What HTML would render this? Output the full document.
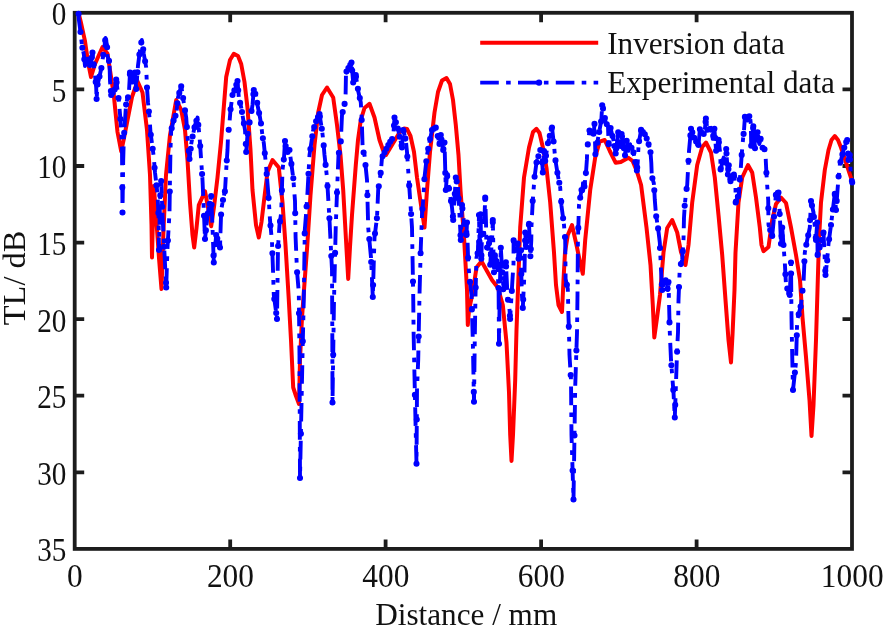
<!DOCTYPE html>
<html lang="en"><head><meta charset="utf-8"><title>TL vs Distance</title>
<style>html,body{margin:0;padding:0;background:#fff}body{width:886px;height:628px;overflow:hidden}svg{display:block}text{font-family:"Liberation Serif","Times New Roman",serif;font-size:31.2px;fill:#111}</style></head><body>
<svg width="886" height="628" viewBox="0 0 886 628">
<rect width="886" height="628" fill="#fff"/>
<g stroke="#1c1c1c" stroke-width="3.8" fill="none" stroke-linecap="butt">
<rect x="74.7" y="12.8" width="777.3" height="536.1"/>
<path d="M230.2 548.9v-9.5M230.2 12.8v9.5M385.6 548.9v-9.5M385.6 12.8v9.5M541.1 548.9v-9.5M541.1 12.8v9.5M696.6 548.9v-9.5M696.6 12.8v9.5M74.7 89.4h9.5M852 89.4h-9.5M74.7 166h9.5M852 166h-9.5M74.7 242.6h9.5M852 242.6h-9.5M74.7 319.1h9.5M852 319.1h-9.5M74.7 395.7h9.5M852 395.7h-9.5M74.7 472.3h9.5M852 472.3h-9.5"/>
</g>
<g fill="none" stroke-linejoin="round">
<path d="M78.8 14L80.8 22L84.9 40.6L88 62L91 77L95 64L102.5 47L107.5 53.8L113.8 95L117.5 132L121.2 151.5L124 138L127.5 120L132 97L137.5 81.2L142.5 92.5L147 130L150 175L151.5 225L152 257.5L153 215L153.8 186L156 215L159 258L161.5 289L163.5 230L166 175L170 135L176.2 100L181.2 110L185 130L187.5 160L190 202.5L192.5 235L194.2 247.5L196.5 228L198.8 205L205 191.2L208.5 210L211.2 226.2L214 207L217.5 177.5L221 142L226.2 77L230 60L233.8 53.8L238 56L241.2 64L244.5 82L247.5 108L250.5 150L252.5 190L256 225L258.8 237.5L261.5 222L263.8 202.5L267.5 172L272.5 160L278.8 167.5L282.5 202.5L285.5 245L288.8 300L291 340L293.2 387.5L296 396L299 404L300 360L302 317.5L304 290L307.3 245L310.5 195L314.5 145L318.2 112.5L322 95L327 87.5L333.2 97.5L337 125L340.5 155L343.2 190L346 240L348.2 279L350 247L352 215L355.8 165L358 140L360.8 120L364.5 108L369.5 103.8L374.5 117.5L379.5 140L383 150L386 155L392 145L399.5 132.5L404 128.5L407 129L410.5 136L414 152L417 177.5L421 205L424.5 227.5L427 190L430 152L434.5 112.5L438 92L442 80.5L446.5 78L450 84L453 100L455.8 125L458.5 155L460.5 190L464.2 240L467 290L467.8 325L469 310L472.8 292L476.5 267.5L481.5 261.2L487.8 272.5L492 280L497.8 287.5L502.8 305L506.5 342.5L509 392.5L510.2 435L511.5 461L513 435L515.2 380L516.5 330L518.5 275L520.2 227.5L524 177.5L529 147.5L533 132L536.5 128.8L539.5 133L543 148L546.5 168L550.2 202.5L554 252.5L556 285L558.5 305L562 312L563.5 280L565 252.5L567.8 235L572 225L576.5 245L580 262L582.8 273.8L585.2 240L590.2 190L595.2 157.5L599.6 141.6L604.7 140L609.8 151L615.7 162.8L620.8 162L628.4 157.7L632.6 161L636.9 171.3L641.1 185L646.5 227.5L650.5 265L652.8 305L654.3 337.5L657 318L660 295L663.5 252.5L667.2 228L672.2 220L677.2 232.5L681 252L685.5 265L688.5 245L692.2 202.5L697.2 165L702.2 147L706 142.5L711 152.5L714.8 177.5L718.5 215L722.2 255L725.5 300L728.5 340L731 362.5L732.5 335L734.5 290L735.5 252.5L738.5 202.5L742.2 177.5L748 165L752.2 172.5L756 197.5L759.8 227.5L761.5 245L763.5 251.2L768.5 247L772.2 220L776 204L781 197.5L786 203L791 227.5L796 255L800 280L802.5 317.5L806 357L809.5 400L811.5 436L813.5 405L816 340L817.5 290L819 240L821 202.5L824.8 170L828.5 150L831.5 140L834.8 136L838 140L841 147.5L846 162.5L852 181" stroke="#ff0000" stroke-width="4" stroke-linecap="round"/>
<path d="M78.6 13.8L78.7 18.5L80.5 32L82 46L83.8 54L85 66L87.5 56L88.8 67.5L91.2 62.5L92.5 52.5L95 75L96.2 87.5L96.6 99L97.5 85L101.2 69L104 50L105.5 38L107 45L107.5 56L109.5 62.5L110 81L111.2 95L115 89L116.2 79.5L118.8 100L120 114L121.2 130L122 150L122.5 212.5L123.2 160L123.8 140L125 120L126.2 102.5L128.8 95L130 72.5L132.5 82.5L135 72.5L136.2 89L138 65.5L140 50L141.8 40L143 47.5L143.8 54L146.2 67.5L147 87.5L148 102.5L149.5 117.5L150.5 132.5L152.5 147L153.8 157.5L155 172.5L157.5 194L158.5 215L159 250L160 200L161.2 181L162.5 215L163.8 240L166.2 287.5L167.5 247.5L169.5 212.5L170 177.5L170.5 149L171.2 130L173.8 120L176.2 114L178 97.5L181.2 86L182.5 94L184.5 107.5L186.2 117.5L187.5 136L189.5 159L191.2 144L192.5 137L195 125L197.5 117.5L198.8 129L200 143L202.5 180L203.8 210L205 239L207.5 215L211.2 196L212.5 227.5L213.8 262.5L216.2 235L220 247.5L221.2 210L223 200L225 191L226.5 165L227.5 150L228 136L229.5 122.5L230.5 110L232.5 95L235 89L237.5 81L238.8 97.5L241.2 107.5L242.5 115L245 130L246.2 152L247.5 135L250 120L252.5 105L253.8 90L256.2 96L257.5 105L260 117.5L261.2 125L262.5 136L263.8 143L266 165L268.8 200L270 220L272 242L273 270L273.8 295L277 319L278 247.5L279.5 225L281.2 212.5L282.5 170L284 158L285 141L286.2 150L287.5 152L289.5 150L293.2 177.5L295 201L295.6 237.5L297 271L298.8 292.5L299.5 355L300 478L302.5 355L303.8 298L304.8 230L306.2 212L307.5 192.5L309.5 155L313.2 130L316.5 120L319.5 114L322 130L323.2 140L324.5 155L327 177.5L329.5 220L332 270L332.3 330L332.5 402.5L334 300L335.8 225L337 192.5L338.5 155L340.8 142.5L342 115L345.5 100L346 72.5L351.5 62.5L353.2 82.5L355.8 75L358.2 91L360.8 102.5L361.5 115L362 127.5L362.7 150L364.5 155L367 180L368.2 227.5L371 257.5L372.8 297L374.5 237.5L377 217.5L378.2 190L380.8 172.5L382 157.5L387 147.5L390 142L393.2 137.5L394.5 117.5L398.2 130L402 147.5L403.2 130L405.8 140L407 152L409.5 190L412 227.5L413.2 295L413.6 332.5L414.5 376L415.8 435L416.5 463.8L417 390L418.2 360L419.5 295L420.8 247.5L422 215L423.2 200L424.5 177.5L427 155L429.5 142L432 130L435.8 127.5L439.5 144L440.8 135L443.2 150L444.5 142.5L445.8 190L447 175L452 207.5L453.2 220L455.8 177.5L458 187L460.8 240L462 205L464 222.5L466.5 235L467 222.5L468.2 262.5L469.5 277.5L471.5 295L472.8 340L474 401.8L474.8 337.5L475.5 295L476.5 257.5L477.9 252L479 215L479.6 246.9L480.6 214.2L481.3 258.8L482 235L483.9 233.4L485.2 197.5L486 222L486.4 246.9L488.1 248.6L489.8 238.5L490.2 264.7L490.6 258.8L492.3 235.1L492.8 220L493.3 245L494 272.3L494.9 255.4L497.4 263.9L497.8 275L498.6 290L499 343.8L499.8 290L500.8 247.8L501.6 260.5L503.3 289.3L505 279.1L505.9 262.2L507.6 297.7L509.3 306.2L510.1 318.9L511.8 290.9L512.6 277.4L513.5 263.9L513.6 240.2L516 252L517.7 243.5L518.6 258.8L521.1 250.3L521.3 274L521.9 294.3L522.8 307.9L524.5 272.3L525.2 232.5L526.2 246.9L527.9 235.1L529 223.8L530.4 256.2L531.3 240.2L531.5 226L532.8 200L534.5 177.5L536.5 162.5L540.2 150L541.5 150L542.8 172.5L544 151L545.2 161L547.8 143.8L552 127.5L554 145L555.2 158.8L557.8 175L560.2 187.5L561.5 206L564 225L565.2 240L565.6 278.8L567.8 288.8L568.5 317.5L569 332.5L569.5 355L571 380L571.5 435L573.5 499.5L575.2 387.5L576 362.5L577 332.5L577.5 295L577.9 241L579 205L581.5 190L581.9 191.6L583.5 181.4L584.4 186.5L586.1 171.3L586.9 159.4L587.3 148.4L589.5 130.6L593.7 134L594.5 123.9L595.4 154.3L597.9 139.1L601.3 120.5L602.2 105.2L603.9 112L605.6 122.2L608 126.4L608.6 144.2L610.6 128.1L613.2 139.1L615.7 153.5L618.2 132.3L620.8 145.9L621.6 134L625 155.2L626.7 140.8L628.4 150.9L630.1 144.2L633.5 152.6L636.9 170.4L637.7 162.8L638.6 144.2L641.1 129.8L645.3 134.9L647.9 141.6L650.4 150.9L651.3 162.8L651.8 176.3L653.8 183.1L654.2 188.2L654.8 200L656 215L658 227.5L659.8 242.5L661 270L662.2 290L664 281L666.5 280L667.8 290L668.5 282L669.8 332.5L671 360L673.5 392.5L674.8 417.5L677.2 347.5L678 332.5L678.5 300L679.8 267.5L682.2 260L683.5 240L684 217.5L684.8 205L686 192.5L687.2 185L689 151L691 128.8L695 140L698.5 145L699.8 130L700.3 127.1L702.5 135.6L704.5 133L705.9 118.6L707.6 130.5L711 127.9L712.7 138.9L714.4 128.8L716.1 150.8L718.6 139.8L720.3 154.2L720.6 169.4L723.7 157.6L725.4 162.6L726.2 149.1L727.9 174.5L728.8 165.2L730.5 181.3L733.9 174.5L735.5 188L735.7 202.4L738.9 194L739.8 179.6L740.6 171.1L741.5 157.6L742 150.8L743.2 137.2L744 130.5L744.9 116.9L747.4 119.5L749.9 115.2L750.8 123.7L751.2 145.7L753.3 126.2L755 148.2L757.6 132.2L759.3 144L760.9 138.1L761.8 147.4L764.3 148.2L765.7 155L765.8 161L766.4 172.8L767.2 185.5L768.2 199.9L768.5 225L772.2 236L773.5 222.5L776 193.8L778.5 192.5L779.8 215L781 243.8L782.2 227.5L784.8 262.5L786 285L789.8 295L791 262.5L791.5 317.5L792.2 355L793 390L796 362.5L797.2 320L801 305L802.2 292.5L803.5 283.8L804.8 252.5L807.2 240L809.8 227.5L811 201L813.5 212.5L816 240L817.2 222.5L817.6 255L823.5 232.5L825.5 275L827.2 260L828.5 243.8L831 225L832.2 215L834.8 193.8L836 210L838.5 177.5L839.8 165L843.5 150L846 142.5L847.2 140L848.5 160L849.8 155L851 177.5L852.2 182.5" stroke="#0000ff" stroke-width="3.9" stroke-dasharray="18.6 7.3 4.6 7.3" stroke-linecap="butt"/>
<path d="M78.6 13.8h0M80.5 32h0M82.4 47.8h0M84.3 59.3h0M86.2 61.2h0M88.1 61.5h0M90 65h0M91.9 57.3h0M93.8 64.2h0M95.7 82h0M97.6 84.6h0M99.5 76.5h0M101.4 68h0M103.3 54.8h0M105.2 40.4h0M107.1 47.2h0M109 60.9h0M110.9 91.1h0M112.8 92.5h0M114.7 89.5h0M116.6 82.4h0M118.5 98h0M120.4 119.1h0M122.3 187.5h0M124.2 132.8h0M126.1 104.6h0M128 97.2h0M129.9 74.3h0M131.8 79.7h0M133.7 77.7h0M135.6 80.4h0M137.5 72.2h0M139.4 54.6h0M141.3 42.6h0M143.2 49.2h0M145.1 61.3h0M147 87.5h0M148.9 111.5h0M150.8 134.7h0M152.7 148.7h0M154.6 167.7h0M156.5 185.4h0M158.4 212.9h0M160.3 195.4h0M162.2 206.8h0M164.1 246.7h0M166 282.8h0M167.9 240.5h0M169.8 191.5h0M171.7 128.2h0M173.6 120.6h0M175.5 115.8h0M177.4 103.2h0M179.3 92.9h0M181.2 86.2h0M183.1 98.1h0M185 110.4h0M186.9 127.1h0M188.8 151h0M190.7 148.7h0M192.6 136.5h0M194.5 127.4h0M196.4 120.8h0M198.3 124.9h0M200.2 146h0M202.1 174.1h0M204 215.8h0M205.9 230.4h0M207.8 213.5h0M209.7 203.9h0M211.6 204.8h0M213.5 255.5h0M215.4 244.3h0M217.3 238.5h0M219.2 244.8h0M221.1 214.5h0M223 200h0M224.9 191.4h0M226.8 160.5h0M228.7 129.7h0M230.6 109.2h0M232.5 95h0M234.4 90.4h0M236.3 84.8h0M238.2 90.2h0M240.1 102.9h0M242 112h0M243.9 123.4h0M245.8 144.1h0M247.7 133.8h0M249.6 122.4h0M251.5 111h0M253.4 94.2h0M255.3 93.7h0M257.2 102.8h0M259.1 113h0M261 123.5h0M262.9 138.2h0M264.8 153.3h0M266.7 173.9h0M268.6 198.1h0M270.5 225.5h0M272.4 253.2h0M274.3 299.1h0M276.2 313.1h0M278.1 246h0M280 221.4h0M281.9 190.4h0M283.8 159.6h0M285.7 146h0M287.6 151.9h0M289.5 150h0M291.4 163.9h0M293.3 178.2h0M295.2 213.2h0M297.1 272.2h0M299 313.3h0M300.9 433.7h0M302.8 341.3h0M304.7 233.4h0M306.6 206.5h0M308.5 173.8h0M310.4 149h0M312.3 136.3h0M314.2 127.1h0M316.1 121.2h0M318 117h0M319.9 116.6h0M321.8 128.7h0M323.7 145.4h0M325.6 164.9h0M327.5 186h0M329.4 218.3h0M331.3 256h0M333.2 354.7h0M335.1 252.9h0M337 192.5h0M338.9 152.8h0M340.8 141.4h0M342.7 112h0M344.6 103.9h0M346.5 71.6h0M348.4 68.1h0M350.3 64.7h0M352.2 70.5h0M354.1 80h0M356 76.6h0M357.9 88.8h0M359.8 98.1h0M361.7 120h0M363.6 152.5h0M365.5 165h0M367.4 195.2h0M369.3 239h0M371.2 262h0M373.1 285.1h0M375 233.5h0M376.9 218.3h0M378.8 186.2h0M380.7 172.9h0M382.6 156.3h0M384.5 152.5h0M386.4 148.7h0M388.3 145.1h0M390.2 141.7h0M392.1 139.1h0M394 125.5h0M395.9 122.2h0M397.8 128.5h0M399.7 136.8h0M401.6 145.6h0M403.5 131h0M405.4 138.6h0M407.3 156.6h0M409.2 185.4h0M411.1 214h0M413 281.5h0M414.9 394.9h0M416.8 419.5h0M418.7 336.6h0M420.6 253.2h0M422.5 209h0M424.4 179.3h0M426.3 161.3h0M428.2 148.8h0M430.1 139.1h0M432 130h0M433.9 128.7h0M435.8 127.7h0M437.7 136.1h0M439.6 143.3h0M441.5 139.5h0M443.4 149.1h0M445.3 172.9h0M447.2 176.3h0M449.1 188.6h0M451 201h0M452.9 216.5h0M454.8 193.7h0M456.7 181.5h0M458.6 198.6h0M460.5 235.2h0M462.4 208.5h0M464.3 224h0M466.2 233.5h0M468.1 257.7h0M470 281.9h0M471.9 309.4h0M473.8 391.9h0M475.7 287.5h0M477.6 253.2h0M479.5 241.6h0M481.4 255.4h0M483.3 233.9h0M485.2 198.8h0M487.1 247.6h0M489 243.3h0M490.9 254.6h0M492.8 222.3h0M494.7 259.2h0M496.6 261.2h0M498.5 288.1h0M500.4 264.7h0M502.3 272.4h0M504.2 283.9h0M506.1 266.4h0M508 299.7h0M509.9 315.7h0M511.8 290.9h0M513.7 240.7h0M515.6 250h0M517.5 244.5h0M519.4 256.1h0M521.3 274h0M523.2 299.5h0M525.1 240.5h0M527 241.3h0M528.9 224.8h0M530.8 249.1h0M532.7 201h0M534.6 176.8h0M536.5 162.5h0M538.4 156.2h0M540.3 150h0M542.2 162.6h0M544.1 151.8h0M546 155.8h0M547.9 143.2h0M549.8 135.9h0M551.7 128.6h0M553.6 141.5h0M555.5 160.4h0M557.4 172.7h0M559.3 182.7h0M561.2 201.6h0M563.1 218.2h0M565 237h0M566.9 284.8h0M568.8 326.5h0M570.7 375h0M572.6 470.5h0M574.5 435.5h0M576.4 350.5h0M578.3 227.9h0M580.2 197.8h0M582.1 190.3h0M584 184.2h0M585.9 173.1h0M587.8 144.4h0M589.7 130.8h0M591.6 132.3h0M593.5 133.8h0M595.4 154.3h0M597.3 142.7h0M599.2 132h0M601.1 121.6h0M603 108.4h0M604.9 118h0M606.8 124.3h0M608.7 143.4h0M610.6 128.1h0M612.5 136.1h0M614.4 146h0M616.3 148.4h0M618.2 132.3h0M620.1 142.2h0M622 136.5h0M623.9 148.3h0M625.8 148.4h0M627.7 146.7h0M629.6 146.2h0M631.5 147.7h0M633.4 152.4h0M635.3 162h0M637.2 167.6h0M639.1 141.3h0M641 130.4h0M642.9 132h0M644.8 134.3h0M646.7 138.5h0M648.6 144.2h0M650.5 152.2h0M652.4 178.3h0M654.3 190.3h0M656.2 216.2h0M658.1 228.4h0M660 248h0M661.9 284.4h0M663.8 282h0M665.7 280.3h0M667.6 288.8h0M669.5 322.4h0M671.4 365.2h0M673.3 389.9h0M675.2 404.9h0M677.1 351.7h0M679 287h0M680.9 264.1h0M682.8 251.2h0M684.7 205.8h0M686.6 188.9h0M688.5 160.7h0M690.4 135.4h0M692.3 132.4h0M694.2 137.7h0M696.1 141.6h0M698 144.3h0M699.9 129.2h0M701.8 132.9h0M703.7 134h0M705.6 121.7h0M707.5 129.8h0M709.4 129.1h0M711.3 129.8h0M713.2 135.9h0M715.1 137.9h0M717 146.8h0M718.9 142.3h0M720.8 168.6h0M722.7 161.4h0M724.6 160.2h0M726.5 153.6h0M728.4 169.3h0M730.3 179.4h0M732.2 177.9h0M734.1 176.2h0M736 201.6h0M737.9 196.6h0M739.8 179.6h0M741.7 154.9h0M743.6 133.9h0M745.5 117.5h0M747.4 119.5h0M749.3 116.2h0M751.2 145.7h0M753.1 128.1h0M755 148.2h0M756.9 136.5h0M758.8 140.5h0M760.7 138.8h0M762.6 147.7h0M764.5 149.2h0M766.4 172.8h0M768.3 208.3h0M770.2 230h0M772.1 235.6h0M774 216.8h0M775.9 194.9h0M777.8 192.9h0M779.7 214.1h0M781.6 236h0M783.5 245h0M785.4 274.2h0M787.3 288.5h0M789.2 293.5h0M791.1 273.5h0M793 390h0M794.9 372.6h0M796.8 335.3h0M798.7 314.2h0M800.6 306.6h0M802.5 290.8h0M804.4 261.3h0M806.3 244.8h0M808.2 235.3h0M810.1 220.1h0M812 205.6h0M813.9 216.9h0M815.8 237.8h0M817.7 254.6h0M819.6 247.4h0M821.5 240.1h0M823.4 232.9h0M825.3 270.7h0M827.2 260.4h0M829.1 239.3h0M831 225h0M832.9 209.5h0M834.8 194.4h0M836.7 200.9h0M838.6 176.5h0M840.5 162h0M842.4 154.4h0M844.3 147.6h0M846.2 142.1h0M848.1 153.6h0M850 159.5h0M851.9 181.1h0M78.6 13.8h0M852.2 182.5h0M92.5 52.5h0M96.6 99h0M111.2 95h0M116.2 79.5h0M122.5 212.5h0M130 72.5h0M135 72.5h0M136.2 89h0M159 250h0M161.2 181h0M166.2 287.5h0M189.5 159h0M205 239h0M211.2 196h0M213.8 262.5h0M216.2 235h0M220 247.5h0M237.5 81h0M246.2 152h0M253.8 90h0M277 319h0M285 141h0M289.5 150h0M300 478h0M319.5 114h0M332.5 402.5h0M351.5 62.5h0M353.2 82.5h0M355.8 75h0M372.8 297h0M394.5 117.5h0M402 147.5h0M403.2 130h0M416.5 463.8h0M435.8 127.5h0M439.5 144h0M440.8 135h0M443.2 150h0M444.5 142.5h0M445.8 190h0M447 175h0M453.2 220h0M455.8 177.5h0M460.8 240h0M462 205h0M466.5 235h0M467 222.5h0M474 401.8h0M479 215h0M479.6 246.9h0M480.6 214.2h0M481.3 258.8h0M485.2 197.5h0M489.8 238.5h0M490.2 264.7h0M492.8 220h0M494 272.3h0M494.9 255.4h0M499 343.8h0M500.8 247.8h0M503.3 289.3h0M505.9 262.2h0M510.1 318.9h0M513.6 240.2h0M517.7 243.5h0M518.6 258.8h0M521.1 250.3h0M522.8 307.9h0M525.2 232.5h0M526.2 246.9h0M529 223.8h0M530.4 256.2h0M542.8 172.5h0M544 151h0M545.2 161h0M552 127.5h0M573.5 499.5h0M581.5 190h0M584.4 186.5h0M589.5 130.6h0M594.5 123.9h0M595.4 154.3h0M602.2 105.2h0M608.6 144.2h0M610.6 128.1h0M615.7 153.5h0M618.2 132.3h0M620.8 145.9h0M621.6 134h0M625 155.2h0M626.7 140.8h0M636.9 170.4h0M641.1 129.8h0M662.2 290h0M668.5 282h0M674.8 417.5h0M691 128.8h0M698.5 145h0M705.9 118.6h0M714.4 128.8h0M716.1 150.8h0M718.6 139.8h0M720.6 169.4h0M725.4 162.6h0M726.2 149.1h0M727.9 174.5h0M728.8 165.2h0M730.5 181.3h0M733.9 174.5h0M735.7 202.4h0M744.9 116.9h0M751.2 145.7h0M753.3 126.2h0M755 148.2h0M757.6 132.2h0M772.2 236h0M778.5 192.5h0M781 243.8h0M782.2 227.5h0M789.8 295h0M791 262.5h0M793 390h0M811 201h0M816 240h0M817.2 222.5h0M817.6 255h0M823.5 232.5h0M825.5 275h0M834.8 193.8h0M836 210h0M847.2 140h0M848.5 160h0M849.8 155h0" stroke="#0000ff" stroke-width="6.1" stroke-linecap="round"/>
</g>
<g text-anchor="end">
<text transform="translate(66.3 25.2) scale(0.935 1.108)">0</text>
<text transform="translate(66.3 101.8) scale(0.935 1.108)">5</text>
<text transform="translate(66.3 178.4) scale(0.935 1.108)">10</text>
<text transform="translate(66.3 255) scale(0.935 1.108)">15</text>
<text transform="translate(66.3 331.5) scale(0.935 1.108)">20</text>
<text transform="translate(66.3 408.1) scale(0.935 1.108)">25</text>
<text transform="translate(66.3 484.7) scale(0.935 1.108)">30</text>
<text transform="translate(66.3 561.3) scale(0.935 1.108)">35</text>
</g>
<g text-anchor="middle">
<text transform="translate(74.9 586.8) scale(1.005 1.108)">0</text>
<text transform="translate(230.4 586.8) scale(1.005 1.108)">200</text>
<text transform="translate(385.8 586.8) scale(1.005 1.108)">400</text>
<text transform="translate(541.3 586.8) scale(1.005 1.108)">600</text>
<text transform="translate(696.8 586.8) scale(1.005 1.108)">800</text>
<text transform="translate(852.2 586.8) scale(1.005 1.108)">1000</text>
<text x="466.2" y="624.7" font-size="31.8">Distance / mm</text>
<text transform="translate(25.2 277.9) rotate(-90) scale(1.04 1)" font-size="31.6">TL/ dB</text>
</g>
<path d="M480.2 42.7H598.2" stroke="#ff0000" stroke-width="4" fill="none"/>
<path d="M480.2 82.6H598.2" stroke="#0000ff" stroke-width="3.9" stroke-dasharray="18.6 7.3 4.6 7.3" fill="none"/>
<circle cx="539" cy="82.6" r="3.2" fill="#0000ff"/>
<text x="607.2" y="54.3" font-size="31.5">Inversion data</text>
<text x="607.2" y="93.1" font-size="31.5">Experimental data</text>
</svg></body></html>
